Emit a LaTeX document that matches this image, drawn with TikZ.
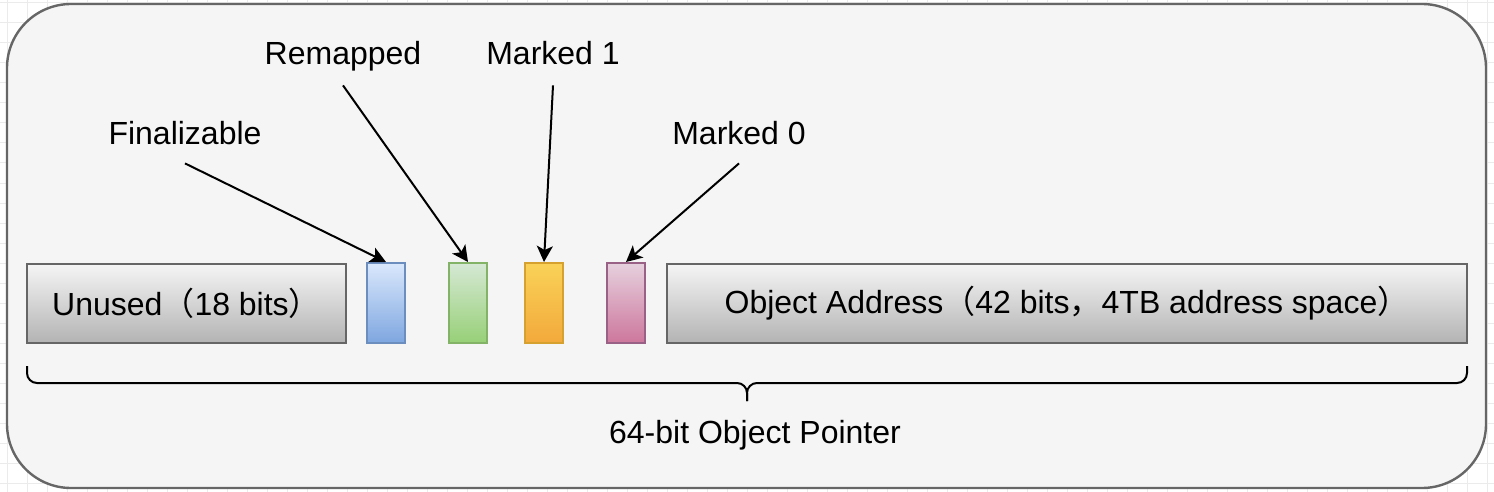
\documentclass[tikz,border=0pt]{standalone}
\usepackage{fontspec}
\setmainfont{Liberation Sans}
\newfontfamily\cjk{Noto Sans CJK SC}
\usetikzlibrary{arrows.meta}
\definecolor{panelFill}{HTML}{F5F5F5}
\definecolor{panelLine}{HTML}{666666}
\definecolor{gridLine}{HTML}{EBEBEB}
\definecolor{grayTop}{HTML}{F5F5F5}
\definecolor{grayBot}{HTML}{B3B3B3}
\definecolor{blueTop}{HTML}{DAE8FC}
\definecolor{blueBot}{HTML}{7EA6E0}
\definecolor{blueLine}{HTML}{6C8EBF}
\definecolor{greenTop}{HTML}{D5E8D4}
\definecolor{greenBot}{HTML}{97D077}
\definecolor{greenLine}{HTML}{82B366}
\definecolor{orangeTop}{HTML}{FAD257}
\definecolor{orangeBot}{HTML}{F2A93B}
\definecolor{orangeLine}{HTML}{D6A12E}
\definecolor{pinkTop}{HTML}{E6D0DE}
\definecolor{pinkBot}{HTML}{CD779C}
\definecolor{pinkLine}{HTML}{996185}

\begin{document}
\begin{tikzpicture}[x=0.5pt,y=-0.5pt,
    every node/.style={font=\fontsize{16}{19}\selectfont},
    field/.style={draw=panelLine, line width=1pt, top color=grayTop, bottom color=grayBot,
      minimum height=39.5pt, inner sep=0pt},
    flag/.style={line width=1pt, minimum width=19pt, minimum height=40pt, inner sep=0pt},
    lbl/.style={inner sep=0pt, text height=11.5pt, text depth=3pt},
    pointer/.style={-{Stealth[length=8pt,width=8pt,inset=2pt]}, line width=1pt}]
        \useasboundingbox (0,0) rectangle (1494,492);
        % page grid
        \foreach \gx in {7,27,...,1487}
          \draw[gridLine, line width=0.5pt] (\gx,0) -- (\gx,492);
        \foreach \gy in {3,23,...,483}
          \draw[gridLine, line width=0.5pt] (0,\gy) -- (1494,\gy);
        \draw[panelLine, fill=panelFill, line width=1.2pt, rounded corners=32pt]
          (7,4) rectangle (1486,488);

        % pointer fields
        \node[field, minimum width=159.5pt] (unused) at (186.5,303.5)
          {Unused{\cjk （}18 bits{\cjk ）}};
        \node[flag, draw=blueLine, top color=blueTop, bottom color=blueBot] (fin) at (386,303) {};
        \node[flag, draw=greenLine, top color=greenTop, bottom color=greenBot] (remap) at (468,303) {};
        \node[flag, draw=orangeLine, top color=orangeTop, bottom color=orangeBot] (mark1) at (544,303) {};
        \node[flag, draw=pinkLine, top color=pinkTop, bottom color=pinkBot] (mark0) at (626,303) {};
        \node[field, minimum width=400pt] (addr) at (1067,303.5)
          {Object Address{\cjk （}42 bits{\cjk ，}4TB address space{\cjk ）}};

        % bit labels
        \node[lbl] (finLbl) at (185,136.5) {Finalizable};
        \node[lbl] (remapLbl) at (343,56.5) {Remapped};
        \node[lbl] (mark1Lbl) at (553,56.5) {Marked 1};
        \node[lbl] (mark0Lbl) at (739,136.5) {Marked 0};
        \draw[pointer] ([yshift=-6pt]finLbl.south) -- (fin.north);
        \draw[pointer] ([yshift=-7pt]remapLbl.south) -- (remap.north);
        \draw[pointer] ([yshift=-7pt]mark1Lbl.south) -- (mark1.north);
        \draw[pointer] ([yshift=-6pt]mark0Lbl.south) -- (mark0.north);

        % brace
        \coordinate (braceL) at (27,366);
        \coordinate (braceR) at (1467,366);
        \coordinate (braceTip) at (747,401);
        \draw[line width=1pt, rounded corners=5pt] (braceL) |- (747,383) -- (braceTip);
        \draw[line width=1pt, rounded corners=5pt] (braceR) |- (747,383) -- (braceTip);
        \node (total) at (755,435) {64-bit Object Pointer};
      \end{tikzpicture}
\end{document}
